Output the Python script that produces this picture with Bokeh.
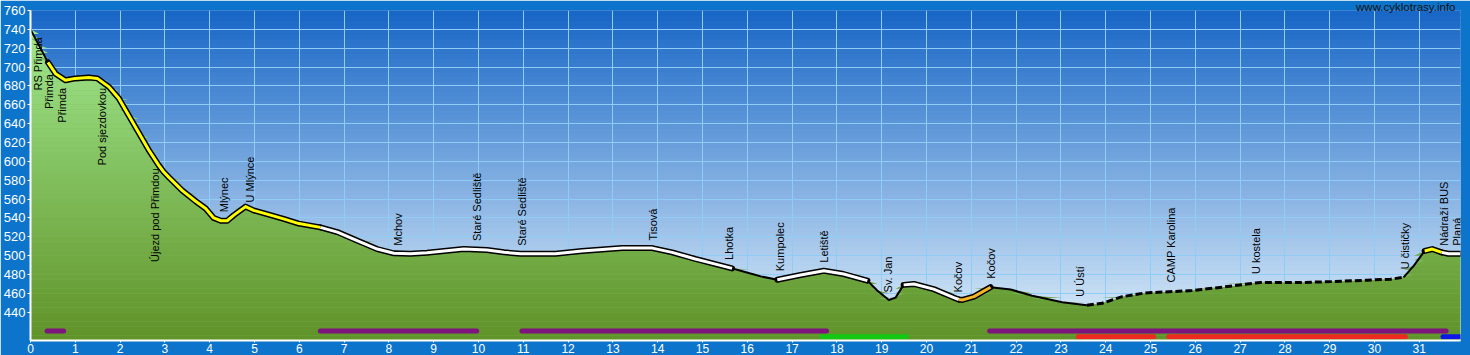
import numpy as np
from bokeh.plotting import figure
from bokeh.models import Range1d, FixedTicker
from bokeh.core.properties import value
from bokeh.embed import file_html
from bokeh.resources import INLINE

# ---------------- data ----------------
km = [0.00, 0.19, 0.39, 0.56, 0.78, 1.00, 1.30, 1.49, 1.75, 1.97, 2.19, 2.42, 2.64, 2.86,
      2.97, 3.09, 3.39, 3.68, 3.91, 4.09, 4.25, 4.39, 4.54, 4.80, 4.98, 5.28, 5.65, 5.99, 6.47,
      6.85, 7.29, 7.74, 8.11, 8.48, 8.85, 9.23, 9.67, 10.19, 10.57, 10.94, 11.72, 12.31,
      13.21, 13.88, 14.32, 14.84, 15.29, 15.66, 16.03, 16.30, 16.67, 17.19, 17.71, 18.15,
      18.68, 18.90, 19.16, 19.31, 19.49, 19.72, 20.16, 20.61, 20.72, 20.80, 21.06, 21.43,
      21.88, 22.36, 23.03, 23.58, 23.92, 24.37, 24.89, 25.33, 25.93, 26.60, 27.34, 27.46,
      28.35, 29.09, 29.84, 30.36, 30.65, 30.88, 31.12, 31.29, 31.50, 31.65, 31.92]
elevation = [740, 723, 705, 693, 686, 688, 689, 688, 679, 667, 649, 630, 612, 596,
             589, 583, 569, 558, 550, 540, 537, 537, 543, 552, 548, 544, 539, 534, 530,
             525, 516, 507, 502.5, 502, 503, 505, 507, 506, 503.5, 502, 502, 505,
             508, 508, 503.5, 496.5, 491, 486.5, 481.5, 478, 474.5, 479.5, 484, 480.5,
             473.5, 463, 453, 455.5, 469, 470, 464.5, 455.5, 453.5, 453, 456.5, 466.5,
             464, 457.5, 450.5, 447.5, 449.5, 456.5, 460.5, 461.5, 463, 466.5, 471, 471.5,
             471.5, 472.5, 474, 475, 477, 489.5, 505, 507, 503.5, 502, 502]

seg_start = [0.00, 0.39, 6.47, 15.66, 16.67, 18.68, 19.49, 20.72, 21.43, 23.58, 30.65, 31.12, 31.50]
seg_end   = [0.39, 6.47, 15.66, 16.67, 18.68, 19.49, 20.72, 21.43, 23.58, 30.65, 31.12, 31.50, 31.92]
seg_kind  = ["plain", "yellow", "white", "plain", "white", "plain", "white", "orange",
             "plain", "dashed", "plain", "yellow", "white"]

label_names = ["RS Přimda", "Přimda", "Přimda", "Pod sjezdovkou", "Újezd pod Přimdou",
               "Mlýnec", "U Mlýnce", "Mchov", "Staré Sedliště", "Staré Sedliště", "Tisová",
               "Lhotka", "Kumpolec", "Letiště", "Sv. Jan", "Kočov", "Kočov", "U Ústí",
               "CAMP Karolina", "U kostela", "U čističky", "Nádraží BUS", "Planá"]
label_km = [0.17, 0.41, 0.71, 1.60, 2.77, 4.31, 4.90, 8.21, 9.96, 10.97, 13.90, 15.60,
            16.72, 17.72, 19.13, 20.70, 21.44, 23.42, 25.45, 27.35, 30.67, 31.56, 31.85]
label_elev = [740, 701, 686.5, 686.5, 601, 537.5, 548, 502, 507, 502, 507.5, 487, 475,
              484, 452.5, 452.5, 467, 448, 463, 472, 477, 502, 502]
label_side = ["down", "down", "down", "down", "down"] + ["up"] * 18

bar_start = [0.37, 6.47, 10.97, 21.41, 17.67, 23.39, 25.41, 31.53]
bar_end   = [0.74, 9.96, 17.77, 31.60, 19.55, 25.07, 30.69, 31.95]
bar_kind  = ["purple", "purple", "purple", "purple", "green", "red", "red", "blue"]

x_ticks = list(range(0, 32))
y_ticks = list(range(440, 761, 20))

# ---------------- figure ----------------
X_MAX = 31.92
Y_MIN, Y_MAX = 410, 760
FONT = "Liberation Sans"

p = figure(width=1470, height=355, x_range=Range1d(0, X_MAX), y_range=Range1d(Y_MIN, Y_MAX),
           output_backend="svg", toolbar_location=None,
           min_border_left=30, min_border_right=10, min_border_top=10, min_border_bottom=15,
           border_fill_color="#0c74ca", background_fill_color="#6aaae4",
           outline_line_color=None)

# watermark as the title
p.title.text = "www.cyklotrasy.info"
p.title.align = "right"
p.title.offset = 5
p.title.standoff = -4
p.title.text_font = FONT
p.title.text_font_size = "11.5px"
p.title.text_font_style = "normal"
p.title.text_color = "#111111"


def lerp(c0, c1, t):
    t = min(max(t, 0.0), 1.0)
    return "#%02x%02x%02x" % tuple(int(round(a + (b - a) * t)) for a, b in zip(c0, c1))


# sky gradient (behind grid)
n_sky = 70
sky_edges = np.linspace(Y_MIN, Y_MAX, n_sky + 1)
sky_bot, sky_top = (226, 241, 251), (24, 102, 198)
sky_cols = [lerp(sky_bot, sky_top, ((lo + hi) / 2 - Y_MIN) / (Y_MAX - Y_MIN))
            for lo, hi in zip(sky_edges[:-1], sky_edges[1:])]
p.quad(left=0, right=X_MAX, bottom=sky_edges[:-1], top=sky_edges[1:],
       color=sky_cols, level="image")

# grid
p.xgrid.grid_line_color = "#8fcdf7"
p.ygrid.grid_line_color = "#8fcdf7"
p.xgrid.grid_line_width = 1
p.ygrid.grid_line_width = 1

# green fill with gradient
km_a = np.array(km, dtype=float)
el_a = np.array(elevation, dtype=float)
green_bot, green_top = (96, 146, 40), (160, 232, 142)
p.varea(x=km_a, y1=Y_MIN, y2=el_a, fill_color="#7cbc58")
g_edges = np.arange(Y_MIN, 745.0 + 0.1, 5.0)
for lo, hi in zip(g_edges[:-1], g_edges[1:]):
    if el_a.max() <= lo:
        continue
    col = lerp(green_bot, green_top, ((lo + hi) / 2 - Y_MIN) / (740 - Y_MIN))
    p.varea(x=km_a, y1=lo, y2=np.clip(el_a, lo, hi), fill_color=col)

# route line
inner = {"yellow": "#ffff00", "white": "#ffffff", "orange": "#f4b226"}


def seg_xy(s, e):
    m = (km_a >= s - 1e-9) & (km_a <= e + 1e-9)
    return km_a[m], el_a[m]


for s, e, k in zip(seg_start, seg_end, seg_kind):
    x, y = seg_xy(s, e)
    if k == "plain":
        p.line(x, y, line_color="black", line_width=2, line_join="round")
    elif k == "dashed":
        p.line(x, y, line_color="black", line_width=3, line_dash="7 3", line_join="round")
for s, e, k in zip(seg_start, seg_end, seg_kind):
    if k in inner:
        x, y = seg_xy(s, e)
        p.line(x, y, line_color="black", line_width=6, line_join="round", line_cap="round")
for s, e, k in zip(seg_start, seg_end, seg_kind):
    if k in inner:
        x, y = seg_xy(s, e)
        p.line(x, y, line_color=inner[k], line_width=3, line_join="round")

# bottom bars
bar_color = {"purple": "#7e157e", "green": "#12c812", "red": "#ec2a20", "blue": "#0c18e6"}
bar_row = {"purple": 420, "green": 414, "red": 414, "blue": 414}
p.segment(x0=bar_start, x1=bar_end,
          y0=[bar_row[k] for k in bar_kind], y1=[bar_row[k] for k in bar_kind],
          line_color=[bar_color[k] for k in bar_kind], line_width=5, line_cap="round")

# waypoint labels
for side, align, off in (("up", "left", -8), ("down", "right", 8)):
    idx = [i for i, s in enumerate(label_side) if s == side]
    p.text(x=[label_km[i] for i in idx], y=[label_elev[i] for i in idx],
           text=[label_names[i] for i in idx], angle=np.pi / 2,
           text_align=align, text_baseline="middle", y_offset=off,
           text_font=value(FONT), text_font_size="11px", text_color="black")

# axes
p.xaxis.ticker = FixedTicker(ticks=x_ticks)
p.yaxis.ticker = FixedTicker(ticks=y_ticks)
for ax in (p.xaxis[0], p.yaxis[0]):
    ax.axis_line_color = "white"
    ax.axis_line_width = 2
    ax.major_tick_line_color = "white"
    ax.major_tick_in = 0
    ax.minor_tick_line_color = None
    ax.major_label_text_color = "white"
    ax.major_label_text_font = FONT
p.yaxis.major_tick_out = 3
p.yaxis.major_label_standoff = 2
p.yaxis.major_label_text_font_size = "13px"
p.xaxis.major_tick_out = 2
p.xaxis.major_label_standoff = 1
p.xaxis.major_label_text_font_size = "12px"

open("out.html", "w").write(file_html(p, INLINE))
